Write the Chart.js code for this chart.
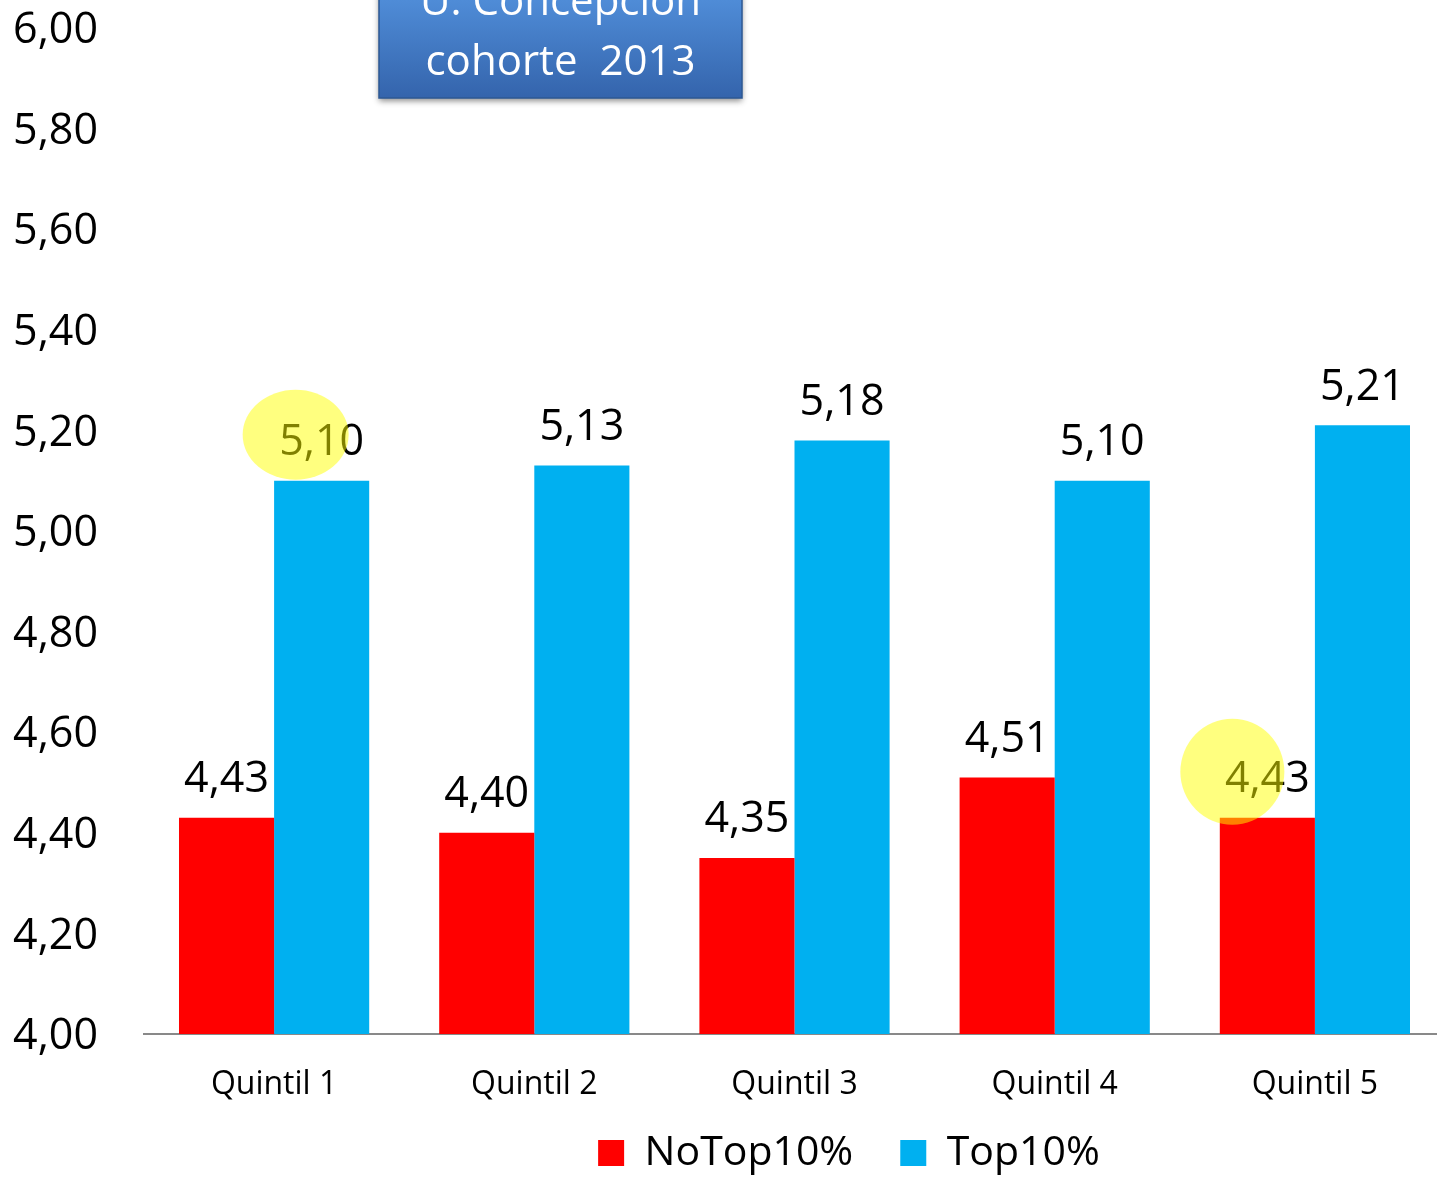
<!DOCTYPE html>
<html>
<head>
<meta charset="utf-8">
<script src="https://cdn.jsdelivr.net/npm/chart.js@4"></script>
<style>
  html, body { margin: 0; padding: 0; background: #ffffff; }
  #wrap { width: 1437px; height: 1182px; position: relative; }
</style>
</head>
<body>
<div id="wrap"><canvas id="c" width="1437" height="1182"></canvas></div>
<script>
// ---- data ----
const categories = ['Quintil 1', 'Quintil 2', 'Quintil 3', 'Quintil 4', 'Quintil 5'];
const noTopValues = [4.43, 4.40, 4.35, 4.51, 4.43];
const topValues   = [5.10, 5.13, 5.18, 5.10, 5.21];
const seriesNames = ['NoTop10%', 'Top10%'];
const titleLines  = ['U. Concepción', 'cohorte  2013'];
const yMin = 4.0, yMax = 6.0, yStep = 0.2;
// highlighted labels: [datasetIndex, categoryIndex]
const highlights = [[1, 0], [0, 4]];

const FONT = "'Open Sans', 'Noto Sans', sans-serif";
const fmt = v => Number(v).toFixed(2).replace('.', ',');

const labelPlugin = {
  id: 'valueLabels',
  afterDatasetsDraw(chart) {
    const ctx = chart.ctx;
    ctx.save();
    ctx.font = "43px " + FONT;
    ctx.fillStyle = '#000000';
    ctx.textAlign = 'center';
    ctx.textBaseline = 'middle';
    chart.data.datasets.forEach((ds, di) => {
      const meta = chart.getDatasetMeta(di);
      meta.data.forEach((bar, i) => {
        ctx.fillText(fmt(ds.data[i]), bar.x, bar.y - 38);
      });
    });
    // yellow highlight ellipses over labels
    ctx.fillStyle = 'rgba(255,255,0,0.5)';
    highlights.forEach(([di, i], k) => {
      const bar = chart.getDatasetMeta(di).data[i];
      const dx = k === 0 ? -26 : -35;
      const rx = k === 0 ? 53 : 52;
      const ry = k === 0 ? 45 : 53;
      ctx.beginPath();
      ctx.ellipse(bar.x + dx, bar.y - 46, rx, ry, 0, 0, Math.PI * 2);
      ctx.fill();
    });
    ctx.restore();
  }
};

const titlePlugin = {
  id: 'titleBox',
  afterDraw(chart) {
    const ctx = chart.ctx;
    ctx.save();
    const x0 = 379, x1 = 742, y0 = -30, y1 = 98;
    const g = ctx.createLinearGradient(0, 0, 0, y1);
    g.addColorStop(0, '#4f8cd7');
    g.addColorStop(1, '#3464ac');
    ctx.shadowColor = 'rgba(0,0,0,0.45)';
    ctx.shadowBlur = 6;
    ctx.shadowOffsetY = 3;
    ctx.fillStyle = g;
    ctx.fillRect(x0, y0, x1 - x0, y1 - y0);
    ctx.shadowColor = 'transparent';
    ctx.strokeStyle = '#2d5894';
    ctx.lineWidth = 1.5;
    ctx.strokeRect(x0, y0, x1 - x0, y1 - y0);
    ctx.fillStyle = '#ffffff';
    ctx.font = "42px " + FONT;
    ctx.textAlign = 'center';
    ctx.textBaseline = 'alphabetic';
    ctx.fillText(titleLines[0], (x0 + x1) / 2, 15);
    ctx.fillText(titleLines[1], (x0 + x1) / 2, 75);
    ctx.restore();
  }
};

// layout tweaks: plot area runs slightly past the right edge (cropped original);
// legend centred at x=849 with text centre at y=1153
const layoutTweaks = {
  id: 'layoutTweaks',
  afterLayout(chart) {
    const xs = chart.scales.x;
    xs.right += 8;
    xs.width += 8;
    xs.configure();
    const lg = chart.legend;
    if (!lg) return;
    const dx = 849 - (lg.left + lg.right) / 2;
    lg.left += dx;
    lg.right += dx;
    const pad = 47, itemH = 41;
    const dy = 1153 - (lg.top + pad + itemH / 2);
    lg.top += dy;
    lg.bottom += dy;
  }
};

new Chart(document.getElementById('c'), {
  type: 'bar',
  data: {
    labels: categories,
    datasets: [
      { label: seriesNames[0], data: noTopValues, backgroundColor: '#ff0000', borderWidth: 0 },
      { label: seriesNames[1], data: topValues, backgroundColor: '#00b0f0', borderWidth: 0 }
    ]
  },
  options: {
    responsive: false,
    animation: false,
    devicePixelRatio: 1,
    layout: { padding: { top: 28, right: 0, left: 0, bottom: -22 } },
    datasets: { bar: { barPercentage: 1.0, categoryPercentage: 0.731 } },
    scales: {
      x: {
        grid: { display: false, drawTicks: false },
        border: { display: true, color: '#898989', width: 2 },
        ticks: { color: '#000000', font: { family: FONT, size: 32 }, padding: 32 },
        afterFit(s) { s.height = 72; s.paddingLeft = 0; s.paddingRight = 0; }
      },
      y: {
        min: yMin, max: yMax,
        grid: { display: false, drawTicks: false },
        border: { display: false },
        ticks: {
          stepSize: yStep,
          color: '#000000',
          font: { family: FONT, size: 43 },
          padding: 46,
          labelOffset: 3,
          callback: v => fmt(v)
        },
        afterFit(s) { s.width = 144; s.paddingTop = 0; s.paddingBottom = 0; }
      }
    },
    plugins: {
      legend: {
        position: 'bottom',
        labels: {
          color: '#000000',
          font: { family: FONT, size: 41 },
          boxWidth: 26, boxHeight: 26,
          padding: 47
        }
      },
      tooltip: { enabled: false },
      title: { display: false }
    }
  },
  plugins: [labelPlugin, titlePlugin, layoutTweaks]
});
</script>
</body>
</html>
